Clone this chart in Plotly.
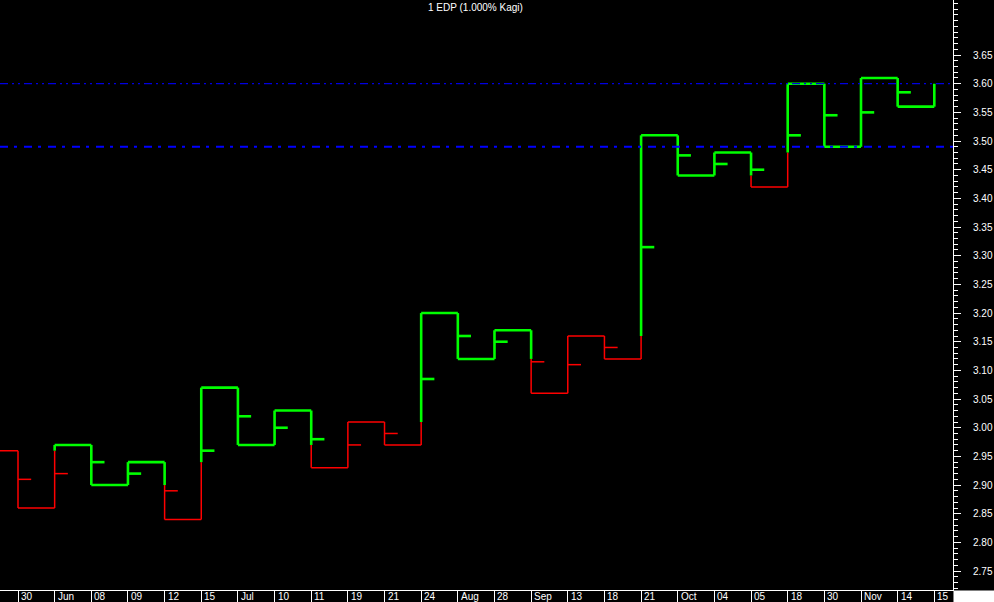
import plotly.graph_objects as go

# ---- data ----
# Kagi turning levels: levels[0] is the level entering the first visible column,
# column k runs from levels[k] to levels[k+1]
levels = [2.96, 2.86, 2.97, 2.90, 2.94, 2.84, 3.07, 2.97, 3.03, 2.93, 3.01, 2.97,
          3.20, 3.12, 3.17, 3.06, 3.16, 3.12, 3.51, 3.44, 3.48, 3.42, 3.60, 3.49,
          3.61, 3.56, 3.60]
# small right-pointing markers on each column
markers = [2.91, 2.92, 2.94, 2.92, 2.89, 2.96, 3.02, 3.00, 2.98, 2.97, 2.99, 3.085,
           3.16, 3.15, 3.115, 3.11, 3.14, 3.315, 3.475, 3.46, 3.45, 3.51, 3.545,
           3.55, 3.585, None]
# date labels of the columns
dates = ["30", "Jun", "08", "09", "12", "15", "Jul", "10", "11", "19", "21", "24",
         "Aug", "28", "Sep", "13", "18", "21", "Oct", "04", "05", "18", "30", "Nov",
         "14", "15"]
y_ticks = [2.75, 2.80, 2.85, 2.90, 2.95, 3.00, 3.05, 3.10, 3.15, 3.20, 3.25, 3.30,
           3.35, 3.40, 3.45, 3.50, 3.55, 3.60, 3.65]
ref_lines = [3.60, 3.49]
title_text = "1 EDP (1.000% Kagi)"

GREEN = "#00ff00"
RED = "#ff0000"
MARK_LEN = 0.36

gx, gy, rx, ry = [], [], [], []


def add(color, xs, ys):
    if color == "g":
        gx.extend(xs + [None]); gy.extend(ys + [None])
    else:
        rx.extend(xs + [None]); ry.extend(ys + [None])


state = "r"
# entry horizontal
add(state, [-1, 0], [levels[0], levels[0]])
n = len(levels) - 1
for k in range(n):
    a, b = levels[k], levels[k + 1]
    prev = levels[k - 1] if k >= 1 else None
    if b > a:
        if state == "r" and prev is not None and b > prev and prev >= a:
            add("r", [k, k], [a, prev]); add("g", [k, k], [prev, b]); state = "g"
            switch = prev
        else:
            add(state, [k, k], [a, b]); switch = None
    else:
        if state == "g" and prev is not None and b < prev and prev <= a:
            add("g", [k, k], [a, prev]); add("r", [k, k], [prev, b]); state = "r"
            switch = prev
        else:
            add(state, [k, k], [a, b]); switch = None
    m = markers[k]
    if m is not None:
        if switch is None:
            mc = state
        elif b > a:
            mc = "g" if m > switch else "r"
        else:
            mc = "r" if m < switch else "g"
        add(mc, [k, k + MARK_LEN], [m, m])
    if k < n - 1:
        add(state, [k, k + 1], [b, b])

fig = go.Figure()
fig.add_trace(go.Scatter(x=rx, y=ry, mode="lines", line=dict(color=RED, width=1.5),
                         hoverinfo="skip", showlegend=False))
fig.add_trace(go.Scatter(x=gx, y=gy, mode="lines", line=dict(color=GREEN, width=2.6),
                         hoverinfo="skip", showlegend=False))

fig.add_shape(type="line", xref="paper", x0=0, x1=1, yref="y", y0=ref_lines[0], y1=ref_lines[0],
              line=dict(color="#0000e0", width=1.3, dash="8px,4px,2px,4px,2px,4px"), layer="above")
fig.add_shape(type="line", xref="paper", x0=0, x1=1, yref="y", y0=ref_lines[1], y1=ref_lines[1],
              line=dict(color="#0000ff", width=2, dash="8px,6px,3px,7px"), layer="above")

# bottom-right white corner box
fig.add_shape(type="rect", xref="paper", yref="paper", x0=1.0005, x1=1.06,
              y0=-0.04, y1=-0.0008, fillcolor="#ffffff", opacity=1,
              line=dict(width=0, color="#ffffff"), layer="above")

for k, d in enumerate(dates):
    fig.add_annotation(x=k, xref="x", y=0, yref="paper", text=d, showarrow=False,
                       xanchor="left", yanchor="top", xshift=1, yshift=1,
                       font=dict(family="Liberation Sans", size=10, color="white"))

fig.add_annotation(x=475 / 953, xref="paper", y=1, yref="paper", text=title_text,
                   showarrow=False, xanchor="center", yanchor="top", yshift=0,
                   font=dict(family="Liberation Sans", size=10, color="white"))

fig.update_layout(
    width=994, height=602,
    margin=dict(l=0, r=41, t=0, b=12),
    paper_bgcolor="black", plot_bgcolor="black",
    font=dict(family="Liberation Sans", size=10, color="white"),
    showlegend=False,
    xaxis=dict(range=[-0.491, 25.51], showgrid=False, zeroline=False,
               showline=True, linecolor="white", linewidth=1,
               tickmode="array", tickvals=list(range(len(dates))), showticklabels=False,
               ticks="outside", ticklen=12, tickcolor="white", tickwidth=1),
    yaxis=dict(range=[2.717, 3.746], side="right", showgrid=False, zeroline=False,
               showline=True, linecolor="white", linewidth=1,
               tickmode="array", tickvals=y_ticks, ticktext=[f"{v:.2f}" for v in y_ticks],
               ticks="outside", ticklen=7, tickcolor="white", tickwidth=1,
               ticklabelstandoff=10,
               tickfont=dict(family="Liberation Sans", size=10, color="white"),
               minor=dict(tickmode="linear", tick0=2.70, dtick=0.01, ticks="outside",
                          ticklen=4, tickcolor="white", tickwidth=1)),
)

fig.write_html("out.html", config={"displayModeBar": False},
               post_script="document.body.style.margin='0';document.body.style.overflow='hidden';document.body.style.background='black';")
